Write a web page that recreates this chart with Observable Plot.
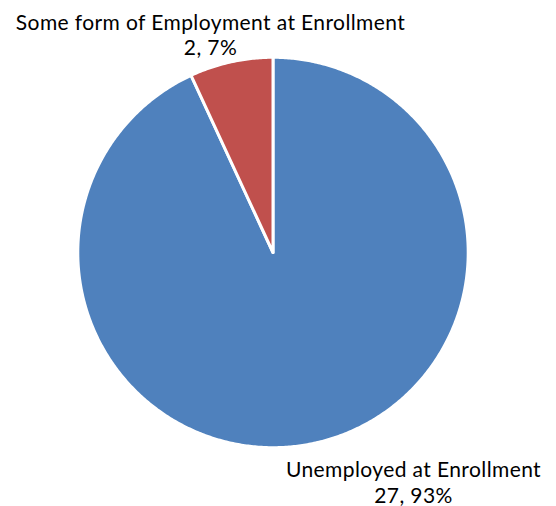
<!DOCTYPE html>
<html>
<head>
<meta charset="utf-8">
<script src="https://cdn.jsdelivr.net/npm/d3@7"></script>
<script src="https://cdn.jsdelivr.net/npm/@observablehq/plot@0.6"></script>
<style>
  html, body { margin: 0; padding: 0; background: #fff; }
  #chart svg { display: block; }
</style>
</head>
<body>
<div id="chart"></div>
<script>
// ---- data ----
const categories = ["Unemployed at Enrollment", "Some form of Employment at Enrollment"];
const counts = [27, 2];
const colors = ["#4F81BD", "#C0504D"];

// ---- layout (pixels) ----
const W = 556, H = 506;
const cx = 272.5, cy = 252, R = 195.2;
const labelPos = [
  {x: 413, y: 458},   // Unemployed (top of label block)
  {x: 210, y: 10.8}   // Employment (top of label block)
];

const total = d3.sum(counts);
const pie = d3.pie().sort(null).value(d => d)(counts);

// polygon points for each wedge, angle measured clockwise from 12 o'clock
function wedge(a0, a1) {
  const pts = [[cx, cy]];
  const n = Math.max(2, Math.ceil((a1 - a0) / (Math.PI / 360)));
  for (let i = 0; i <= n; i++) {
    const a = a0 + (a1 - a0) * i / n;
    pts.push([cx + R * Math.sin(a), cy - R * Math.cos(a)]);
  }
  pts.push([cx, cy]);
  return pts;
}

const marks = [];
pie.forEach((p, i) => {
  marks.push(Plot.line(wedge(p.startAngle, p.endAngle), {
    x: d => d[0], y: d => d[1],
    fill: colors[i], stroke: "white", strokeWidth: 3,
    strokeLinejoin: "round", curve: "linear"
  }));
});

const labels = categories.map((c, i) => ({
  text: `${c}\n${counts[i]}, ${Math.round(counts[i] / total * 100)}%`,
  x: labelPos[i].x, y: labelPos[i].y
}));

const font = "Lato, 'Open Sans', sans-serif";
marks.push(Plot.text(labels, {
  x: "x", y: "y", text: "text",
  textAnchor: "middle", lineAnchor: "top", lineHeight: 1.23,
  fontSize: 21, fill: "#000"
}));

const chart = Plot.plot({
  width: W, height: H,
  margin: 0,
  x: {domain: [0, W], range: [0, W], axis: null},
  y: {domain: [0, H], range: [0, H], axis: null},
  style: {fontFamily: font, background: "white", letterSpacing: "0.4px"},
  marks
});
document.getElementById("chart").appendChild(chart);
</script>
</body>
</html>
